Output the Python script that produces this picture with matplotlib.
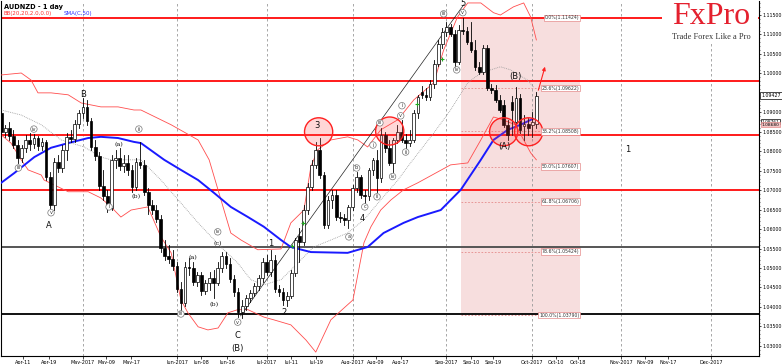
import matplotlib
matplotlib.use('Agg')
import matplotlib.pyplot as plt
from matplotlib.patches import Rectangle, Ellipse
import numpy as np

# ---------------- data (AUDNZD daily, 2017-04-03 .. 2017-10-03) ----------------
opens = [1.0899,1.0850,1.0860,1.0839,1.0816,1.0783,1.0809,1.0829,1.0819,1.0834,
         1.0814,1.0824,1.0734,1.0662,1.0773,1.0757,1.0804,1.0837,1.0832,1.0870,
         1.0899,1.0914,1.0878,1.0811,1.0788,1.0711,1.0685,1.0654,1.0778,1.0783,
         1.0762,1.0770,1.0752,1.0708,1.0773,1.0765,1.0696,1.0662,1.0649,1.0626,
         1.0552,1.0531,1.0523,1.0505,1.0446,1.0410,1.0503,1.0500,1.0464,1.0482,
         1.0441,1.0462,1.0475,1.0462,1.0500,1.0531,1.0511,1.0472,1.0439,1.0387,
         1.0403,1.0423,1.0436,1.0454,1.0475,1.0516,1.0490,1.0521,1.0446,1.0439,
         1.0418,1.0428,1.0487,1.0582,1.0567,1.0649,1.0708,1.0765,1.0804,1.0739,
         1.0611,1.0675,1.0688,1.0631,1.0629,1.0624,1.0657,1.0706,1.0734,1.0688,
         1.0685,1.0752,1.0778,1.0732,1.0842,1.0809,1.0770,1.0829,1.0850,1.0829,
         1.0821,1.0829,1.0899,1.0953,1.0945,1.0940,1.0973,1.1025,1.1076,1.1107,
         1.1120,1.1102,1.1030,1.1112,1.1109,1.1081,1.1060,1.1017,1.1004,1.1066,
         1.0963,1.0958,1.0932,1.0919,1.0868,1.0927,1.0876,1.0937,1.0865,1.0870,
         1.0868,1.0870]
highs = [1.0911,1.0868,1.0876,1.0855,1.0829,1.0816,1.0842,1.0847,1.0845,1.0839,
         1.0834,1.0829,1.0747,1.0783,1.0791,1.0816,1.0847,1.0855,1.0881,1.0906,
         1.0937,1.0932,1.0886,1.0829,1.0798,1.0752,1.0701,1.0791,1.0804,1.0809,
         1.0791,1.0791,1.0765,1.0783,1.0824,1.0778,1.0706,1.0675,1.0662,1.0637,
         1.0572,1.0559,1.0547,1.0516,1.0464,1.0516,1.0526,1.0516,1.0490,1.0490,
         1.0470,1.0490,1.0495,1.0516,1.0541,1.0541,1.0526,1.0482,1.0449,1.0418,
         1.0431,1.0444,1.0462,1.0482,1.0526,1.0534,1.0547,1.0534,1.0457,1.0449,
         1.0439,1.0495,1.0577,1.0603,1.0662,1.0719,1.0778,1.0824,1.0834,1.0747,
         1.0685,1.0701,1.0701,1.0644,1.0639,1.0662,1.0714,1.0747,1.0739,1.0701,
         1.0757,1.0783,1.0804,1.0860,1.0850,1.0829,1.0834,1.0868,1.0881,1.0845,
         1.0855,1.0906,1.0945,1.0968,1.0963,1.0983,1.1035,1.1086,1.1117,1.1132,
         1.1127,1.1112,1.1125,1.1142,1.1120,1.1132,1.1086,1.1030,1.1073,1.1073,
         1.0973,1.0971,1.0945,1.0932,1.0881,1.0942,1.0965,1.0947,1.0893,1.0886,
         1.0901,1.0953]
lows = [1.0842,1.0837,1.0829,1.0809,1.0770,1.0773,1.0798,1.0804,1.0809,1.0804,
        1.0804,1.0726,1.0654,1.0649,1.0747,1.0747,1.0778,1.0824,1.0824,1.0860,
        1.0886,1.0868,1.0804,1.0778,1.0701,1.0675,1.0644,1.0649,1.0757,1.0752,
        1.0747,1.0739,1.0696,1.0701,1.0757,1.0688,1.0639,1.0639,1.0618,1.0541,
        1.0521,1.0513,1.0495,1.0439,1.0385,1.0403,1.0482,1.0457,1.0454,1.0431,
        1.0433,1.0444,1.0423,1.0457,1.0490,1.0500,1.0464,1.0428,1.0374,1.0372,
        1.0393,1.0413,1.0428,1.0444,1.0464,1.0482,1.0480,1.0439,1.0428,1.0405,
        1.0403,1.0423,1.0480,1.0516,1.0559,1.0639,1.0701,1.0757,1.0732,1.0603,
        1.0603,1.0654,1.0624,1.0618,1.0611,1.0603,1.0649,1.0696,1.0680,1.0662,
        1.0675,1.0739,1.0696,1.0721,1.0798,1.0765,1.0747,1.0821,1.0824,1.0798,
        1.0814,1.0824,1.0886,1.0937,1.0932,1.0932,1.0963,1.1019,1.1066,1.1096,
        1.1096,1.1019,1.1025,1.1102,1.1076,1.1055,1.1009,1.0999,1.0999,1.0958,
        1.0950,1.0927,1.0901,1.0863,1.0829,1.0842,1.0868,1.0847,1.0829,1.0842,
        1.0837,1.0860]
closes = [1.0850,1.0860,1.0839,1.0816,1.0783,1.0809,1.0829,1.0819,1.0834,1.0814,
          1.0824,1.0734,1.0662,1.0773,1.0757,1.0804,1.0837,1.0832,1.0870,1.0899,
          1.0914,1.0878,1.0811,1.0788,1.0711,1.0685,1.0654,1.0778,1.0783,1.0762,
          1.0770,1.0752,1.0708,1.0773,1.0765,1.0696,1.0662,1.0649,1.0626,1.0552,
          1.0531,1.0523,1.0505,1.0446,1.0410,1.0503,1.0500,1.0464,1.0482,1.0441,
          1.0462,1.0475,1.0462,1.0500,1.0531,1.0511,1.0472,1.0439,1.0387,1.0403,
          1.0423,1.0436,1.0454,1.0475,1.0516,1.0490,1.0521,1.0446,1.0439,1.0418,
          1.0428,1.0487,1.0572,1.0567,1.0649,1.0708,1.0765,1.0804,1.0739,1.0611,
          1.0675,1.0688,1.0631,1.0629,1.0624,1.0657,1.0706,1.0734,1.0688,1.0685,
          1.0752,1.0778,1.0732,1.0842,1.0809,1.0770,1.0829,1.0850,1.0829,1.0821,
          1.0829,1.0899,1.0940,1.0945,1.0940,1.0973,1.1025,1.1076,1.1107,1.1120,
          1.1102,1.1030,1.1112,1.1109,1.1081,1.1060,1.1017,1.1004,1.1066,1.0963,
          1.0958,1.0932,1.0906,1.0868,1.0842,1.0906,1.0937,1.0855,1.0870,1.0860,
          1.0876,1.0943]

# indicator lines: (bar index, price)
bb_upper_x = [0,4.9,7.3,9,12.2,16.4,19.6,24.4,28.6,32.5,34.2,41.6,48.2,50.9,56.2,58.7,62.8,68.5,70.9,74.1,
              75.8,77.5,80.7,84.8,87.3,89.7,92.9,97.1,101,105.9,108.3,111.7,114.2,117.4,120.5,122.2,125.4,127.9,129.6,131]
bb_upper_y = [1.0996,1.1001,1.0983,1.0950,1.0950,1.0945,1.0924,1.0914,1.0914,1.0906,1.0906,1.0868,1.0829,1.0778,1.0590,1.0572,1.0547,1.0549,1.0616,1.0649,
              1.0760,1.0804,1.0829,1.0837,1.0829,1.0811,1.0855,1.0881,1.0932,1.0976,1.1060,1.1145,1.1181,1.1181,1.1156,1.1150,1.1171,1.1181,1.1145,1.1086]
bb_mid_x = [0,4.9,9.8,14.7,20.3,24.4,26.9,34.2,39.1,44,48.2,53.8,57.9,61.1,64.3,68.5,70.9,76.5,80.7,84.8,
            88.8,92.9,97.1,100.2,105.9,110,114.2,117.4,122.2,124.7,128.8,130.3]
bb_mid_y = [1.0906,1.0893,1.0868,1.0829,1.0811,1.0785,1.0778,1.0778,1.0726,1.0667,1.0616,1.0554,1.0513,1.0470,1.0457,1.0470,1.0495,1.0554,1.0572,1.0590,
            1.0624,1.0675,1.0726,1.0770,1.0847,1.0906,1.0976,1.1001,1.1017,1.1009,1.0983,1.0965]
bb_lower_x = [0,2.4,4.9,6.6,9.8,10.5,16.4,21.3,24.4,26.9,29.3,31.8,35.9,39.1,41.6,44,45.7,48.2,50.6,53.1,
              55.5,57.9,60.4,64.3,66.7,70.9,74.6,77,80.7,86.1,88.8,90.5,92.9,95.4,98.5,102,110,114.2,117.4,120.5,
              122.2,125.9,129.6,131]
bb_lower_y = [1.0842,1.0821,1.0778,1.0752,1.0739,1.0726,1.0696,1.0696,1.0680,1.0657,1.0631,1.0649,1.0657,1.0580,1.0539,1.0418,1.0385,1.0349,1.0341,1.0346,
              1.0385,1.0393,1.0393,1.0374,1.0367,1.0354,1.0315,1.0284,1.0367,1.0418,1.0565,1.0606,1.0649,1.0675,1.0701,1.0719,1.0765,1.0770,1.0829,1.0888,
              1.0883,1.0868,1.0796,1.0778]
sma_x = [0,3.2,8.1,12.2,16.4,21.3,24.4,28.6,32.5,34.2,39.9,44,48.2,52.1,56.2,60.4,64.3,68.5,70.9,75.8,
         84.8,89.7,93.6,98.5,102,107.6,112.5,117.4,120.5,124,127.1,130.1]
sma_y = [1.0719,1.0744,1.0785,1.0809,1.0821,1.0834,1.0837,1.0834,1.0824,1.0821,1.0778,1.0752,1.0726,1.0693,1.0657,1.0631,1.0606,1.0572,1.0554,1.0541,
         1.0539,1.0554,1.0590,1.0616,1.0631,1.0649,1.0701,1.0778,1.0829,1.0855,1.0868,1.0883]

# horizontal levels
red_levels = [1.1142, 1.0980, 1.0842, 1.0701]
grey_level = 1.0554
black_level = 1.0381

# Fibonacci retracement
fib_hi, fib_lo = 1.11424, 1.03790
fib_pcts = [0.0, 23.6, 38.2, 50.0, 61.8, 78.6, 100.0]
fib_x0, fib_x1 = 112.5, 141.8

# x-axis labels (bar positions)
xtick_pos = [5.4, 11.7, 20, 25.7, 31.8, 43, 48.9, 55.3, 65, 71, 77, 86, 91.7, 97.8,
             109, 115, 120.5, 130, 135.7, 141.3, 151.8, 157.7, 163.3, 173.8]
xtick_lab = ['Apr-11','Apr-19','May-2017','May-09','May-17','Jun-2017','Jun-08','Jun-16',
             'Jul-2017','Jul-11','Jul-19','Aug-2017','Aug-09','Aug-17','Sep-2017','Sep-10',
             'Sep-19','Oct-2017','Oct-10','Oct-18','Nov-2017','Nov-09','Nov-17','Dec-2017']
month_pos = [20, 43, 65, 86, 109, 130, 151.8, 173.8]
yticks = [1.030,1.035,1.040,1.045,1.050,1.055,1.060,1.065,1.070,1.075,1.080,1.085,
          1.090,1.100,1.105,1.110,1.115]
last_price = 1.09427
axis_marks = [(1.08761, 'white', 'black'), (1.08680, '#f4c4c4', '#e58a8a')]

# wave labels: (text, x, y, kind)  kind: 'c' circled, 't' plain, 'b' big
wave_labels = [
    ('iii', 4.2, 1.0757, 'c'), ('iv', 8.0, 1.0857, 'c'), ('v', 12.2, 1.0642, 'c'),
    ('A', 11.7, 1.0609, 'b'), ('B', 20, 1.0947, 'b'),
    ('(a)', 28.8, 1.0816, 't'), ('(b)', 33, 1.0683, 't'), ('ii', 33.7, 1.0857, 'c'),
    ('i', 26.4, 1.0657, 'c'),
    ('iii', 44, 1.0382, 'c'), ('(a)', 46.9, 1.0526, 't'), ('(b)', 52.1, 1.0405, 't'),
    ('(c)', 53, 1.0562, 't'), ('iv', 53, 1.0593, 'c'), ('v', 57.9, 1.0361, 'c'),
    ('C', 57.9, 1.0327, 'b'), ('(B)', 57.9, 1.0294, 'b'),
    ('1', 66, 1.0564, 'b'), ('2', 69.2, 1.0387, 'b'), ('3', 77.3, 1.0866, 'b'),
    ('a', 85.1, 1.0580, 'c'), ('b', 87, 1.0757, 'c'), ('c', 89, 1.0657, 'c'), ('4', 88.5, 1.0627, 'b'),
    ('i', 91.0, 1.0816, 'c'), ('ii', 92.0, 1.0683, 'c'), ('iii', 92.7, 1.0873, 'c'),
    ('iv', 95.8, 1.0735, 'c'), ('v', 97.8, 1.0891, 'c'), ('i', 98.1, 1.0917, 'c'), ('ii', 99.0, 1.0798, 'c'),
    ('iii', 108.3, 1.1153, 'c'), ('iv', 111.5, 1.1009, 'c'), ('5', 113, 1.1180, 'b'),
    ('v', 113, 1.1156, 'c'), ('(A)', 123.2, 1.0811, 'b'), ('(B)', 125.9, 1.0991, 'b'),
    ('1', 153.3, 1.0804, 'b'),
]
circles = [(77.7, 1.0850), (95.1, 1.0852), (123.0, 1.0850), (129.1, 1.0850)]
green_marks_x = [71.1, 73.8, 101.9, 108.0]
green_marks_y = [1.0557, 1.0616, 1.0922, 1.1037]

# ---------------- figure ----------------
W, H = 782, 364
fig = plt.figure(figsize=(W/100, H/100), dpi=100)
ax = fig.add_axes([1/W, 8/H, 758/W, 355/H])
ax.set_xlim(-0.05, 185.5)
ax.set_ylim(1.0274, 1.1186)

n = len(closes)

# pink fib zone
ax.add_patch(Rectangle((fib_x0, fib_lo), fib_x1 - fib_x0, fib_hi - fib_lo,
                       facecolor='#f7dede', edgecolor='none', zorder=0.5))
for p in fib_pcts:
    lvl = fib_hi - (fib_hi - fib_lo) * p / 100
    ax.plot([fib_x0, fib_x1], [lvl, lvl], color='#e58a8a', lw=0.6, ls=(0, (2, 2)), zorder=1)
    ax.text(fib_x1 - 0.3, lvl, '%.1f%%(%.5f)' % (p, lvl), fontsize=3.3, ha='right', va='center',
            color='#333333', zorder=6,
            bbox=dict(boxstyle='square,pad=0.15', fc='white', ec='#e58a8a', lw=0.5))

# month grid
for m in month_pos:
    ax.axvline(m, color='#999999', lw=0.6, ls=(0, (3, 3)), zorder=0.6)

# horizontal levels
for lv in red_levels:
    ax.axhline(lv, color='#ff1a1a', lw=1.4, zorder=2)
ax.axhline(grey_level, color='#555555', lw=1.4, zorder=2)
ax.axhline(black_level, color='#111111', lw=1.4, zorder=2)

# indicator lines
ax.plot(bb_upper_x, bb_upper_y, color='#ff4d4d', lw=0.6, zorder=3)
ax.plot(bb_lower_x, bb_lower_y, color='#ff4d4d', lw=0.6, zorder=3)
ax.plot(bb_mid_x, bb_mid_y, color='#9a9a9a', lw=0.6, ls=(0, (1, 1.2)), zorder=3)
ax.plot(sma_x, sma_y, color='#1a1aff', lw=1.4, zorder=3.5)

# trend line
ax.plot([58.6, 113.2], [1.0377, 1.1176], color='#222222', lw=0.5, zorder=3)

# candles
for i in range(n):
    o, h, l, c = opens[i], highs[i], lows[i], closes[i]
    ax.plot([i, i], [l, h], color='black', lw=0.6, zorder=4)
    lo_b, hi_b = min(o, c), max(o, c)
    if hi_b - lo_b < 0.0002:
        hi_b = lo_b + 0.0002
    fc = 'white' if c >= o else 'black'
    ax.add_patch(Rectangle((i - 0.33, lo_b), 0.66, hi_b - lo_b, facecolor=fc,
                           edgecolor='black', lw=0.5, zorder=4.5))

# red circles
for cx, cy in circles:
    ax.add_patch(Ellipse((cx, cy), 6.9, 0.0072, facecolor=(1, 0.3, 0.3, 0.22),
                         edgecolor='#ff2020', lw=1.0, zorder=5))

ax.plot(green_marks_x, green_marks_y, '+', color='#22aa22', ms=3, mew=0.8, zorder=5)

# wave labels
for t, x, y, k in wave_labels:
    if k == 'c':
        ax.text(x, y, t, fontsize=3.6, ha='center', va='center', color='#333333', zorder=7,
                bbox=dict(boxstyle='circle,pad=0.15', fc='white', ec='#777777', lw=0.5))
    elif k == 't':
        ax.text(x, y, t, fontsize=4.5, ha='center', va='center', color='#111111', zorder=7,
                family='DejaVu Serif')
    else:
        ax.text(x, y, t, fontsize=6, ha='center', va='center', color='#111111', zorder=7)

# arrow
ax.annotate('', xy=(133.3, 1.1024), xytext=(131.3, 1.0950),
            arrowprops=dict(arrowstyle='-|>', color='#ff2020', lw=0.8, mutation_scale=5), zorder=7)

# axes styling
ax.yaxis.tick_right()
ax.set_yticks(yticks)
ax.set_yticklabels(['%.5f' % v for v in yticks], fontsize=3.4)
ax.set_yticks(np.arange(1.028, 1.118, 0.001), minor=True)
ax.tick_params(axis='y', which='major', length=1.5, width=0.5, pad=0.8)
ax.tick_params(axis='y', which='minor', length=1, width=0.4)
ax.set_xticks(xtick_pos)
ax.set_xticklabels(xtick_lab, fontsize=3.5)
ax.tick_params(axis='x', length=2, width=0.5, pad=0.8)
for s in ['left', 'bottom', 'right']:
    ax.spines[s].set_linewidth(0.8)
ax.spines['top'].set_visible(False)

# price boxes on the right axis
ax.text(1.003, last_price, '%.5f' % last_price, transform=ax.get_yaxis_transform(),
        fontsize=3.4, ha='left', va='center', color='black', zorder=9, clip_on=False,
        bbox=dict(boxstyle='square,pad=0.2', fc='white', ec='black', lw=0.5))
for val, fc, ec in axis_marks:
    ax.text(1.003, val, '%.5f' % val, transform=ax.get_yaxis_transform(),
            fontsize=3.2, ha='left', va='center', color='black', zorder=9, clip_on=False,
            bbox=dict(boxstyle='square,pad=0.12', fc=fc, ec=ec, lw=0.5))

# header texts
fig.text(4/W, 1 - 7/H, 'AUDNZD - 1 day', fontsize=4.8, fontweight='bold', ha='left', va='center')
fig.text(4/W, 1 - 13/H, 'BB(20,20,2.0,0.0)', fontsize=4.0, color='#ff3030', ha='left', va='center')
fig.text(64/W, 1 - 13/H, 'SMA(C,50)', fontsize=4.0, color='#3030ff', ha='left', va='center')

# logo
fig.patches.append(Rectangle((662/W, 1 - 44/H), 96/W, 44/H, transform=fig.transFigure,
                             facecolor='white', edgecolor='none', zorder=8))
fig.text(711/W, 1 - 17/H, 'FxPro', fontsize=23, color='#e4202e', ha='center', va='center',
         family='Liberation Serif', zorder=9)
fig.text(711/W, 1 - 37/H, 'Trade Forex Like a Pro', fontsize=6, color='#333333', ha='center',
         va='center', family='Liberation Serif', zorder=9)

fig.savefig('out.png', dpi=100)
